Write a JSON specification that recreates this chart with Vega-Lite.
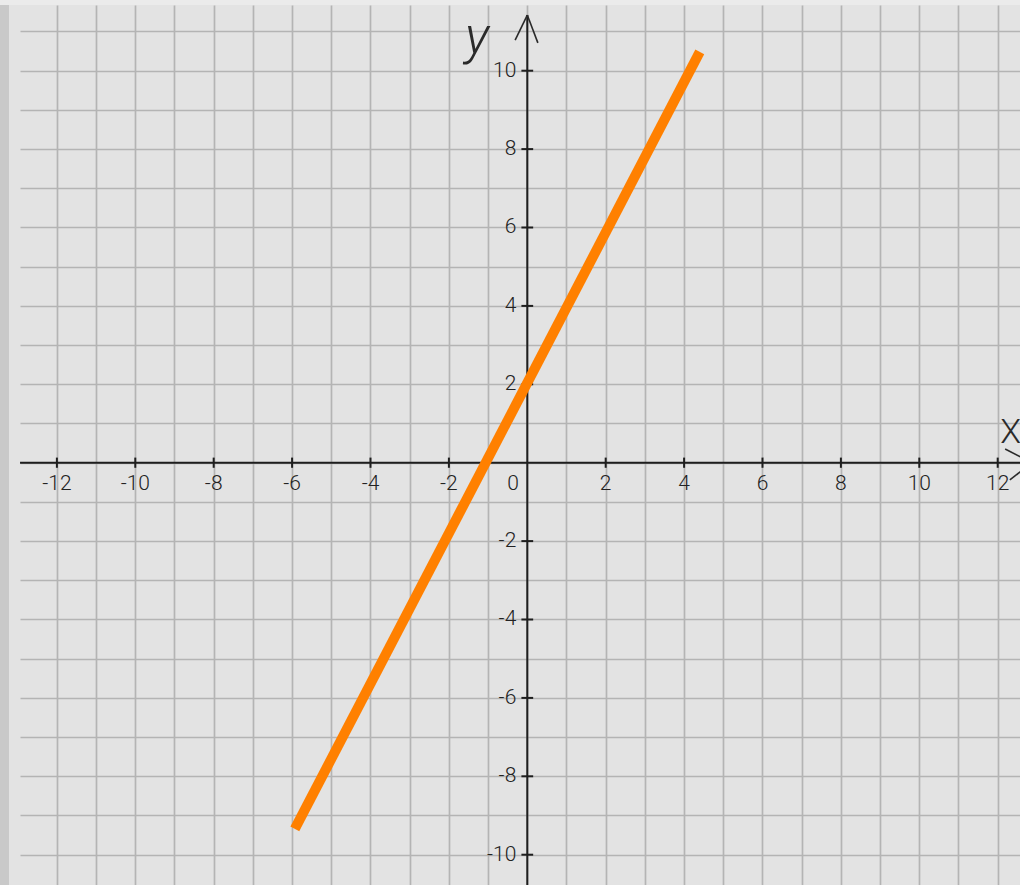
{
  "$schema": "https://vega.github.io/schema/vega-lite/v6.json",
  "width": 1000,
  "height": 880,
  "autosize": "none",
  "padding": {"left": 20, "top": 5, "right": 0, "bottom": 0},
  "background": "#e3e3e3",
  "config": {"view": {"stroke": null, "fill": "#e3e3e3"}},
  "datasets": {
    "line": [{"x": -5.93, "y": -9.34}, {"x": 4.40, "y": 10.48}],
    "xt": [{"v": -12, "t": "-12"}, {"v": -10, "t": "-10"}, {"v": -8, "t": "-8"}, {"v": -6, "t": "-6"}, {"v": -4, "t": "-4"}, {"v": -2, "t": "-2"}, {"v": 2, "t": "2"}, {"v": 4, "t": "4"}, {"v": 6, "t": "6"}, {"v": 8, "t": "8"}, {"v": 10, "t": "10"}, {"v": 12, "t": "12"}],
    "yt": [{"v": -10, "t": "-10"}, {"v": -8, "t": "-8"}, {"v": -6, "t": "-6"}, {"v": -4, "t": "-4"}, {"v": -2, "t": "-2"}, {"v": 2, "t": "2"}, {"v": 4, "t": "4"}, {"v": 6, "t": "6"}, {"v": 8, "t": "8"}, {"v": 10, "t": "10"}],
    "axes": [{"x": 0, "y": -11.2, "x2": 0, "y2": 11.42}, {"x": -12.94, "y": 0, "x2": 12.87, "y2": 0}],
    "arrows": [
      {"x": -0.31, "y": 10.78, "x2": 0, "y2": 11.42},
      {"x": 0.27, "y": 10.71, "x2": 0, "y2": 11.42},
      {"x": 12.19, "y": 0.35, "x2": 12.87, "y2": 0.0},
      {"x": 12.31, "y": -0.44, "x2": 12.87, "y2": 0.0}
    ]
  },
  "layer": [
    {
      "data": {"values": [{}]},
      "mark": {"type": "rect", "color": "#c9c9c9", "clip": false},
      "encoding": {
        "x": {"datum": -13.46, "type": "quantitative", "scale": {"domain": [-12.941, 12.569], "nice": false, "zero": false},
          "axis": {"values": [-12,-11,-10,-9,-8,-7,-6,-5,-4,-3,-2,-1,0,1,2,3,4,5,6,7,8,9,10,11,12], "grid": true, "gridColor": "#b4b4b4", "gridWidth": 1.7, "labels": false, "ticks": false, "domain": false, "title": null}},
        "x2": {"datum": -13.222},
        "y": {"datum": -11.2, "type": "quantitative", "scale": {"domain": [-10.773, 11.676], "nice": false, "zero": false},
          "axis": {"values": [-10,-9,-8,-7,-6,-5,-4,-3,-2,-1,0,1,2,3,4,5,6,7,8,9,10,11], "grid": true, "gridColor": "#b4b4b4", "gridWidth": 1.7, "labels": false, "ticks": false, "domain": false, "title": null}},
        "y2": {"datum": 11.676}
      }
    },
    {
      "data": {"values": [{}]},
      "mark": {"type": "rect", "color": "#ebebeb", "clip": false},
      "encoding": {
        "x": {"datum": -13.46, "type": "quantitative"},
        "x2": {"datum": 12.7},
        "y": {"datum": 11.676, "type": "quantitative"},
        "y2": {"datum": 11.81}
      }
    },
    {
      "data": {"name": "axes"},
      "mark": {"type": "rule", "color": "#1e1e1e", "strokeWidth": 2},
      "encoding": {
        "x": {"field": "x", "type": "quantitative"},
        "y": {"field": "y", "type": "quantitative"},
        "x2": {"field": "x2"},
        "y2": {"field": "y2"}
      }
    },
    {
      "data": {"name": "arrows"},
      "mark": {"type": "rule", "color": "#2a2a2a", "strokeWidth": 1.6, "clip": false},
      "encoding": {
        "x": {"field": "x", "type": "quantitative"},
        "y": {"field": "y", "type": "quantitative"},
        "x2": {"field": "x2"},
        "y2": {"field": "y2"}
      }
    },
    {
      "data": {"name": "xt"},
      "mark": {"type": "rule", "color": "#1e1e1e", "strokeWidth": 2},
      "encoding": {
        "x": {"field": "v", "type": "quantitative"},
        "y": {"datum": -0.13, "type": "quantitative"},
        "y2": {"datum": 0.13}
      }
    },
    {
      "data": {"name": "yt"},
      "mark": {"type": "rule", "color": "#1e1e1e", "strokeWidth": 2},
      "encoding": {
        "y": {"field": "v", "type": "quantitative"},
        "x": {"datum": -0.15, "type": "quantitative"},
        "x2": {"datum": 0.15}
      }
    },
    {
      "data": {"name": "xt"},
      "mark": {"type": "text", "font": "Roboto", "fontWeight": 300, "fontSize": 21, "color": "#222222", "align": "center", "baseline": "alphabetic", "dy": 27},
      "encoding": {
        "x": {"field": "v", "type": "quantitative"},
        "y": {"datum": 0, "type": "quantitative"},
        "text": {"field": "t"}
      }
    },
    {
      "data": {"values": [{"t": "0"}]},
      "mark": {"type": "text", "font": "Roboto", "fontWeight": 300, "fontSize": 21, "color": "#222222", "align": "center", "baseline": "alphabetic", "dy": 27},
      "encoding": {
        "x": {"datum": -0.36, "type": "quantitative"},
        "y": {"datum": 0, "type": "quantitative"},
        "text": {"field": "t"}
      }
    },
    {
      "data": {"name": "yt"},
      "mark": {"type": "text", "font": "Roboto", "fontWeight": 300, "fontSize": 21, "color": "#222222", "align": "right", "baseline": "middle", "dx": -11},
      "encoding": {
        "y": {"field": "v", "type": "quantitative"},
        "x": {"datum": 0, "type": "quantitative"},
        "text": {"field": "t"}
      }
    },
    {
      "data": {"values": [{"t": "y"}]},
      "mark": {"type": "text", "font": "Roboto", "fontWeight": 300, "fontStyle": "italic", "fontSize": 52, "color": "#2a2a2a", "align": "center", "baseline": "alphabetic"},
      "encoding": {
        "x": {"datum": -1.28, "type": "quantitative"},
        "y": {"datum": 10.44, "type": "quantitative"},
        "text": {"field": "t"}
      }
    },
    {
      "data": {"values": [{"t": "X"}]},
      "mark": {"type": "text", "font": "Roboto", "fontWeight": 300, "fontSize": 34, "color": "#2a2a2a", "align": "center", "baseline": "alphabetic", "clip": false},
      "encoding": {
        "x": {"datum": 12.33, "type": "quantitative"},
        "y": {"datum": 0.5, "type": "quantitative"},
        "text": {"field": "t"}
      }
    },
    {
      "data": {"name": "line"},
      "mark": {"type": "line", "color": "#ff8000", "strokeWidth": 10, "strokeCap": "butt"},
      "encoding": {
        "x": {"field": "x", "type": "quantitative"},
        "y": {"field": "y", "type": "quantitative"}
      }
    }
  ]
}
